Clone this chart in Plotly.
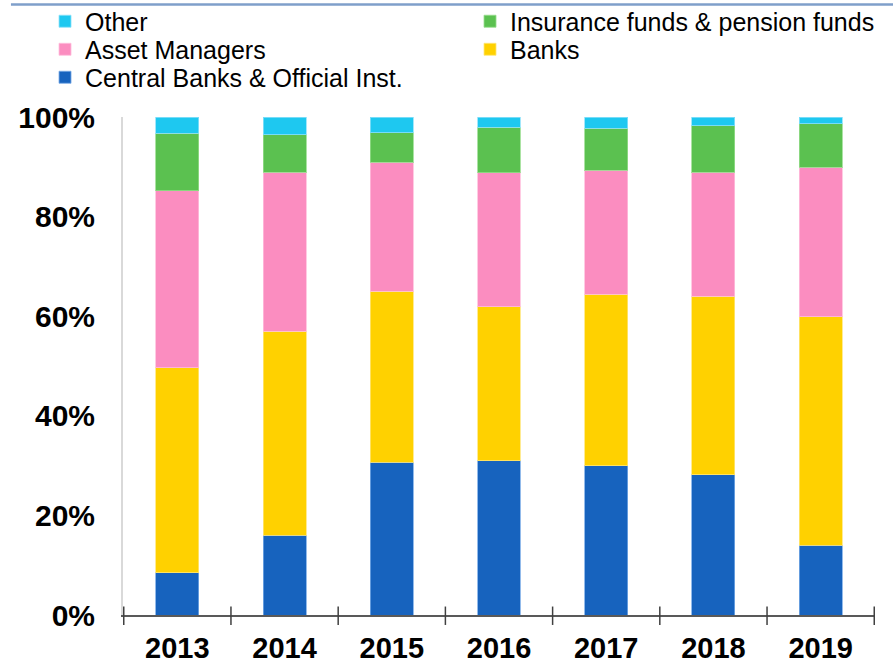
import plotly.graph_objects as go

years = ["2013", "2014", "2015", "2016", "2017", "2018", "2019"]
central_banks = [8.5, 16.0, 30.7, 31.0, 30.0, 28.2, 14.0]
banks = [41.1, 41.0, 34.3, 30.9, 34.4, 35.8, 45.9]
asset_managers = [35.6, 31.9, 25.9, 26.9, 24.9, 24.9, 30.0]
insurance = [11.5, 7.5, 5.9, 9.15, 8.4, 9.3, 8.7]
other = [3.3, 3.6, 3.2, 2.05, 2.3, 1.8, 1.4]
y_ticks = [0, 20, 40, 60, 80, 100]

# (name, values, fill, edge, legend row)
series = [
    ("Central Banks & Official Inst.", central_banks, "#1763BE", "rgba(120,170,230,0.8)", "legend3"),
    ("Banks", banks, "#FFD100", "rgba(255,230,120,0.8)", "legend2"),
    ("Asset Managers", asset_managers, "#FB8DC0", "rgba(255,190,220,0.8)", "legend2"),
    ("Insurance funds & pension funds", insurance, "#5BC150", "rgba(150,220,140,0.8)", "legend"),
    ("Other", other, "#1EC8F0", "rgba(140,225,250,0.8)", "legend"),
]

fig = go.Figure()
for name, vals, col, edge, leg in series:
    fig.add_trace(go.Bar(
        x=years, y=vals, name=name, width=0.4, legend=leg,
        marker=dict(color=col, line=dict(color=edge, width=1)),
    ))

base_font = dict(family="Liberation Sans, Arial, sans-serif", color="black")


def legend_row(ypos):
    return dict(
        orientation="h", traceorder="reversed",
        x=-0.1037, xanchor="left", y=ypos, yanchor="middle",
        font=dict(size=25, **base_font),
        entrywidth=380, entrywidthmode="pixels",
        bgcolor="rgba(0,0,0,0)",
    )


fig.update_layout(
    barmode="stack",
    width=893, height=665,
    margin=dict(l=123, r=18, t=117, b=50, autoexpand=False),
    paper_bgcolor="white", plot_bgcolor="white",
    showlegend=True,
    legend=legend_row(1.1918),
    legend2=legend_row(1.1355),
    legend3=legend_row(1.0793),
    xaxis=dict(
        type="category", showgrid=False, showline=True, automargin=False,
        linecolor="#595959", linewidth=1.5, ticks="",
        tickfont=dict(size=29, weight="bold", **base_font),
        ticklabelstandoff=6,
    ),
    yaxis=dict(
        range=[0, 100], showgrid=False, showline=True, automargin=False,
        linecolor="#d9d9d9", linewidth=2, ticks="",
        tickvals=y_ticks, ticktext=[f"{v}%" for v in y_ticks],
        tickfont=dict(size=30, weight="bold", **base_font),
        ticklabelstandoff=20, zeroline=False,
    ),
)

shapes = []
for i in range(len(years) + 1):
    shapes.append(dict(type="line", xref="x", yref="y domain",
                       x0=i - 0.5, x1=i - 0.5, y0=-0.02, y1=0.017,
                       line=dict(color="#404040", width=1.5)))
shapes.append(dict(type="line", xref="paper", yref="paper",
                   x0=-0.149, x1=1.03, y0=1.226, y1=1.226,
                   line=dict(color="#7f9fca", width=2.5)))
fig.update_layout(shapes=shapes)

fig.write_html(
    "out.html",
    config={"displayModeBar": False},
    post_script="document.body.style.margin='0';document.body.style.overflow='hidden';",
)
